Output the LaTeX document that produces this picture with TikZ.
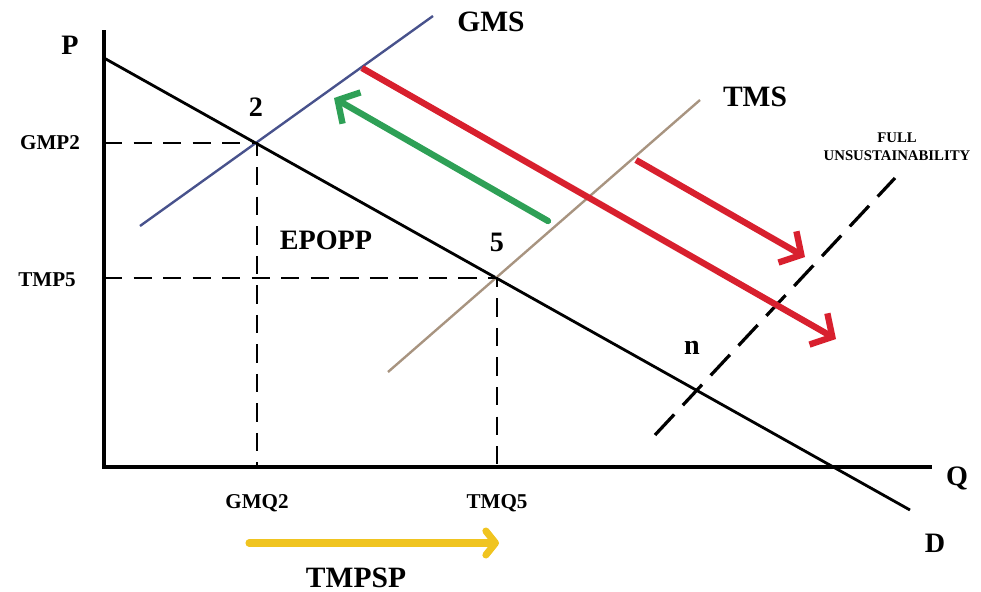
\documentclass[tikz,border=0pt]{standalone}
\usepackage{fontspec}
\setmainfont{Liberation Serif}
\usetikzlibrary{arrows.meta,positioning,calc}

\definecolor{gmsblue}{RGB}{72,82,140}
\definecolor{tmstan}{RGB}{168,148,128}
\definecolor{shiftred}{RGB}{216,32,46}
\definecolor{backgreen}{RGB}{46,160,86}
\definecolor{moveyellow}{RGB}{240,196,32}

\begin{document}
\begin{tikzpicture}[
  x=0.025cm, y=-0.025cm,
  axis/.style={line width=2.8pt, black},
  demand/.style={line width=2pt, black},
  supply/.style={line width=1.7pt},
  guide/.style={line width=1pt, dash pattern=on 13pt off 8pt},
  limit/.style={line width=2.3pt, dash pattern=on 20pt off 9pt},
  lbl/.style={font=\bfseries\fontsize{20}{22}\selectfont, inner sep=1pt},
  big/.style={font=\bfseries\fontsize{21}{23}\selectfont, inner sep=1pt},
  tick/.style={font=\bfseries\fontsize{15}{17}\selectfont, inner sep=1pt},
  note/.style={font=\bfseries\fontsize{10.5}{12.8}\selectfont, align=center, inner sep=1pt},
  shiftarrow/.style={line width=4.5pt, -{Straight Barb[length=4mm,width=9mm]}},
  move/.style={line width=5pt, moveyellow, line cap=round,
    -{Straight Barb[round,length=2.4mm,width=6mm]}}
]
\useasboundingbox (0,0) rectangle (981,592);

% axes
\coordinate (O)    at (104,467);
\coordinate (Ptop) at (104,30);
\coordinate (Qend) at (932,467);
\draw[axis] (Ptop) -- (O) -- (Qend);
\node[lbl] (P) at (70,45)  {P};
\node[lbl] (Q) at (957,478) {Q};

% demand and supply curves
\coordinate (Dtop)  at (104,58);
\coordinate (Dend)  at (910,510);
\coordinate (gmsA)  at (140,226);
\coordinate (gmsB)  at (433,16);
\coordinate (tmsA)  at (388,372);
\coordinate (tmsB)  at (700,100);
\coordinate (fullA) at (655,435);
\coordinate (fullB) at (895,178);
\coordinate (pt2)   at (257,143);
\coordinate (pt5)   at (497,278);

\draw[demand] (Dtop) -- (Dend);
\draw[supply, gmsblue] (gmsA) -- (gmsB);
\draw[supply, tmstan] (tmsA) -- (tmsB);
\draw[limit] (fullA) -- (fullB);

\node[lbl] (D)   at (935,543) {D};
\node[big] (GMS) at (491,22)  {GMS};
\node[big] (TMS) at (755,97)  {TMS};
\node[note] (FULL) at (897,147) {FULL\\UNSUSTAINABILITY};

% equilibria
\draw[guide] (pt2 -| O) -- (pt2) -- (pt2 |- O);
\draw[guide] (pt5 -| O) -- (pt5) -- (pt5 |- O);
\node[lbl] (two)  at (256,107) {2};
\node[lbl] (five) at (497,242) {5};
\node[lbl] (n)    at (692,348) {n};
\node[lbl] (EPOPP) at (326,240) {EPOPP};

\node[tick] (GMP2) at (50,143)  {GMP2};
\node[tick] (TMP5) at (47,280)  {TMP5};
\node[tick] (GMQ2) at (257,503) {GMQ2};
\node[tick] (TMQ5) at (497,503) {TMQ5};

% shifts
\coordinate (redA)   at (362,68);
\coordinate (redB)   at (836,339);
\coordinate (redC)   at (636,160);
\coordinate (redD)   at (805,257);
\coordinate (greenA) at (548,221);
\coordinate (greenB) at (334,98);
\coordinate (yelA)   at (249,543);
\coordinate (yelB)   at (499,543);

\draw[shiftarrow, shiftred] (redA) -- (redB);
\draw[shiftarrow, shiftred] (redC) -- (redD);
\draw[shiftarrow, backgreen, line cap=round] (greenA) -- (greenB);
\draw[move] (yelA) -- (yelB);
\node[big] (TMPSP) at (356,578) {TMPSP};

\end{tikzpicture}
\end{document}
